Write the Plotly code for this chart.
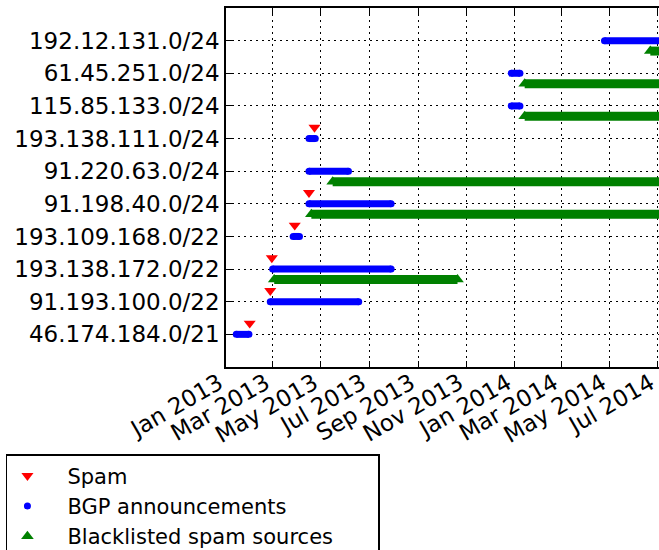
import plotly.graph_objects as go

prefixes = ["46.174.184.0/21", "91.193.100.0/22", "193.138.172.0/22", "193.109.168.0/22",
            "91.198.40.0/24", "91.220.63.0/24", "193.138.111.0/24", "115.85.133.0/24",
            "61.45.251.0/24", "192.12.131.0/24"]

# BGP announcement periods (row index, start, end)
bgp_rows = [0, 1, 2, 3, 4, 5, 6, 7, 8, 9]
bgp_start = ["2013-01-14", "2013-02-26", "2013-03-01", "2013-03-27", "2013-04-16",
             "2013-04-16", "2013-04-16", "2013-12-28", "2013-12-28", "2014-04-25"]
bgp_end = ["2013-01-30", "2013-06-18", "2013-07-29", "2013-04-04", "2013-07-29",
           "2013-06-05", "2013-04-24", "2014-01-08", "2014-01-08", "2014-07-20"]

# Blacklisted periods
bl_rows = [2, 4, 5, 7, 8, 9]
bl_start = ["2013-03-03", "2013-04-19", "2013-05-16", "2014-01-14", "2014-01-14", "2014-06-22"]
bl_end = ["2013-10-21", "2014-07-20", "2014-07-20", "2014-07-20", "2014-07-20", "2014-07-20"]

# Spam observations
spam_rows = [0, 1, 2, 3, 4, 6]
spam_dates = ["2013-01-31", "2013-02-26", "2013-02-28", "2013-03-29", "2013-04-16", "2013-04-23"]

legend_names = ["Spam", "BGP announcements", "Blacklisted spam sources"]

SPAM_OFF = 0.34
BL_OFF = -0.32

BLUE = "#0000ff"
GREEN = "#008000"
RED = "#ff0000"
PAD = "\u00a0\u00a0\u00a0"
TAIL = "\u00a0" * 6


def segments(rows, starts, ends, off):
    xs, ys = [], []
    for r, s, e in zip(rows, starts, ends):
        xs += [s, e, None]
        ys += [r + off, r + off, None]
    return xs, ys


fig = go.Figure()

bx, by = segments(bgp_rows, bgp_start, bgp_end, 0)
fig.add_trace(go.Scatter(x=bx, y=by, mode="lines", line=dict(color=BLUE, width=7),
                         showlegend=False, hoverinfo="skip"))
gx, gy = segments(bl_rows, bl_start, bl_end, BL_OFF)
fig.add_trace(go.Scatter(x=gx, y=gy, mode="lines", line=dict(color=GREEN, width=9),
                         showlegend=False, hoverinfo="skip"))

fig.add_trace(go.Scatter(
    x=spam_dates, y=[r + SPAM_OFF for r in spam_rows], mode="markers", name=PAD + legend_names[0],
    marker=dict(symbol="triangle-down", size=10.5, color=RED, line=dict(width=0))))
fig.add_trace(go.Scatter(
    x=bgp_start + bgp_end, y=bgp_rows + bgp_rows, mode="markers", name=PAD + legend_names[1],
    marker=dict(symbol="circle", size=7, color=BLUE, line=dict(width=0))))
fig.add_trace(go.Scatter(
    x=bl_start + bl_end, y=[r + BL_OFF for r in bl_rows + bl_rows], mode="markers",
    name=PAD + legend_names[2] + TAIL,
    marker=dict(symbol="triangle-up", size=11, color=GREEN, line=dict(width=0))))

font = dict(family="DejaVu Sans", size=23, color="black")

fig.update_layout(
    width=659, height=550,
    margin=dict(l=226, r=0, t=8, b=183, autoexpand=False),
    paper_bgcolor="white", plot_bgcolor="white",
    font=font,
    showlegend=True,
    legend=dict(
        xref="container", yref="container", x=0.009, y=1 - 454 / 550,
        xanchor="left", yanchor="top",
        bordercolor="black", borderwidth=1.5, bgcolor="white",
        font=dict(family="DejaVu Sans", size=21, color="black"), itemwidth=30, tracegroupgap=0,
    ),
    xaxis=dict(
        type="date", range=["2013-01-01", "2014-07-03"],
        tick0="2013-01-01", dtick="M2", tickformat="%b %Y", tickangle=-30,
        ticks="inside", ticklen=6, tickcolor="black", tickwidth=1,
        showline=True, linecolor="black", linewidth=1.5, mirror="ticks",
        showgrid=True, gridcolor="black", gridwidth=1, griddash="2px,4px",
        zeroline=False, tickfont=font, ticklabelstandoff=-8, ticklabelshift=-7,
        ticklabeloverflow="allow",
    ),
    yaxis=dict(
        range=[-1, 10], tickmode="array", tickvals=list(range(len(prefixes))),
        ticktext=prefixes,
        ticks="inside", ticklen=6, tickcolor="black", tickwidth=1,
        showline=True, linecolor="black", linewidth=1.5, mirror=False,
        showgrid=True, gridcolor="black", gridwidth=1, griddash="2px,4px",
        zeroline=False, tickfont=font,
    ),
)

fig.write_html("out.html", config={"displayModeBar": False},
               post_script="document.body.style.margin='0';document.body.style.overflow='hidden';")
